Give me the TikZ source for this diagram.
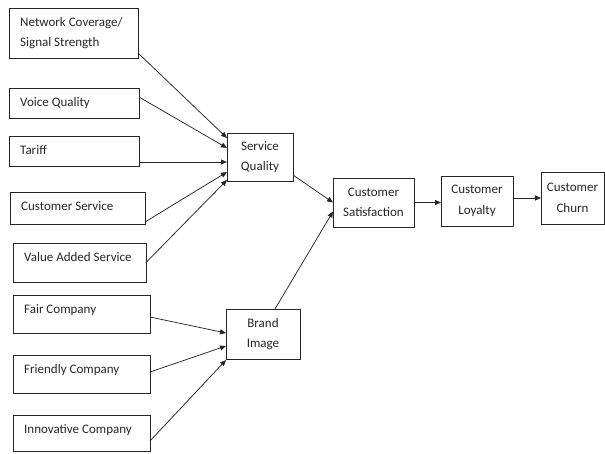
\documentclass[tikz,border=0pt]{standalone}
\usepackage{fontspec}
\setmainfont{Carlito}
\usetikzlibrary{arrows.meta}
\tikzset{
  box/.style={draw=black!85, line width=0.9pt, anchor=north west, inner sep=0pt, outer sep=0pt},
  boxtext/.style={anchor=north west, align=left, inner sep=0pt, xshift=11pt, yshift=-9pt},
  arr/.style={draw=black!85, line width=0.75pt, -{Triangle[length=6pt,width=5pt]}}
}
\begin{document}
\begin{tikzpicture}[x=1pt, y=-1pt, font=\fontsize{13}{20.5}\selectfont, text=black!85]
    \useasboundingbox (0,0) rectangle (605,453);
    % drivers of service quality
    \node[box, minimum width=129pt, minimum height=50pt, label={[boxtext, name=netT]north west:Network Coverage/\\Signal Strength}] (net) at (9,8) {};
    \node[box, minimum width=130pt, minimum height=30pt, label={[boxtext, name=voiceT]north west:Voice Quality}] (voice) at (9,88) {};
    \node[box, minimum width=130pt, minimum height=30pt, label={[boxtext, name=tariffT]north west:Tariff}] (tariff) at (9,136) {};
    \node[box, minimum width=135pt, minimum height=32pt, label={[boxtext, name=servT]north west:Customer Service}] (serv) at (10,192) {};
    \node[box, minimum width=133pt, minimum height=39pt, label={[boxtext, name=vasT]north west:Value Added Service}] (vas) at (13,243) {};
    % drivers of brand image
    \node[box, minimum width=137pt, minimum height=38pt, label={[boxtext, name=fairT]north west:Fair Company}] (fair) at (13,295) {};
    \node[box, minimum width=137pt, minimum height=38pt, label={[boxtext, name=friendT]north west:Friendly Company}] (friend) at (13,355) {};
    \node[box, minimum width=137pt, minimum height=36pt, label={[boxtext, name=innovT]north west:Innovative Company}] (innov) at (13,415) {};
    % main chain
    \node[box, minimum width=66pt, minimum height=48pt, align=center] (sq) at (227,133) {Service\\Quality};
    \node[box, minimum width=74pt, minimum height=50pt, align=center] (brand) at (226,309) {Brand\\Image};
    \node[box, minimum width=81pt, minimum height=49pt, align=center] (sat) at (333,178) {Customer\\Satisfaction};
    \node[box, minimum width=72pt, minimum height=50pt, align=center] (loyal) at (441,176) {Customer\\Loyalty};
    \node[box, minimum width=63pt, minimum height=52pt, align=center] (churn) at (541,172) {Customer\\Churn};
    % arrows
    \draw[arr] ([yshift=5pt]net.south east) -- ([yshift=19pt]sq.west);
    \draw[arr] ([yshift=6pt]voice.east) -- ([yshift=9pt]sq.west);
    \draw[arr] ([yshift=-11pt]tariff.east) -- ([yshift=-5pt]sq.west);
    \draw[arr] ([yshift=2pt]serv.south east) -- ([yshift=-15pt]sq.west);
    \draw[arr] (vas.east) -- ([yshift=1pt]sq.south west);
    \draw[arr] ([yshift=-3pt]fair.east) -- ([yshift=1pt]brand.west);
    \draw[arr] ([yshift=2pt]friend.east) -- ([yshift=-12pt]brand.west);
    \draw[arr] ([yshift=-8pt]innov.east) -- ([yshift=-1pt]brand.south west);
    \draw[arr] ([yshift=-18pt]sq.east) -- (sat.west);
    \draw[arr] ([xshift=12pt]brand.north) -- ([yshift=-9pt]sat.west);
    \draw[arr, line width=1.1pt] (sat.east) -- (sat.east -| loyal.west);
    \draw[arr, line width=1pt] (loyal.east |- churn.west) -- (churn.west);
\end{tikzpicture}
\end{document}
